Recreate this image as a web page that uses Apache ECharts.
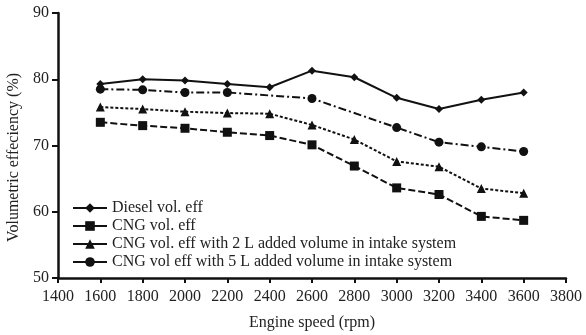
<!DOCTYPE html>
<html><head><meta charset="utf-8">
<script src="https://cdn.jsdelivr.net/npm/echarts@6/dist/echarts.min.js"></script>
<style>html,body{margin:0;padding:0;background:#fff}#c{width:586px;height:335px}</style>
</head><body><div id="c"></div>
<script>
const speeds = [1600,1800,2000,2200,2400,2600,2800,3000,3200,3400,3600];
const diesel = [79.3,80.0,79.8,79.3,78.8,81.3,80.3,77.2,75.5,76.9,78.0];
const cng    = [73.5,73.0,72.6,72.0,71.5,70.1,66.9,63.6,62.6,59.3,58.7];
const cng2L  = [75.8,75.5,75.1,74.9,74.8,73.1,70.9,67.6,66.8,63.5,62.8];
const cng5L  = [78.5,78.4,78.0,78.0,null,77.1,null,72.7,70.5,69.8,69.1];
const names = ['Diesel vol. eff','CNG vol. eff','CNG vol. eff with 2 L added volume in intake system','CNG vol eff with 5 L added volume in intake system'];
const xTicks = [1400,1600,1800,2000,2200,2400,2600,2800,3000,3200,3400,3600,3800];
const yTicks = [50,60,70,80,90];

const font = 'Liberation Serif';
const pair = a => speeds.map((s,i)=>[s,a[i]]).filter(p=>p[1]!==null);
function mk(name, data, symbol, size, type){
  return {name, type:'line', data:pair(data), symbol, symbolSize:size,
    itemStyle:{color:'#111'}, lineStyle:{color:'#111', width:2, type},
    animation:false};
}
const chart = echarts.init(document.getElementById('c'), null, {renderer:'canvas'});
chart.setOption({
  animation:false,
  grid:{left:58, right:20, top:13, bottom:57, containLabel:false, outerBoundsMode:'none'},
  xAxis:{type:'value', min:xTicks[0], max:xTicks[xTicks.length-1], interval:200,
    name:'Engine speed (rpm)', nameLocation:'middle', nameGap:37,
    nameTextStyle:{fontFamily:font, fontSize:16, color:'#222'},
    axisLine:{lineStyle:{color:'#111', width:2.5}},
    axisTick:{lineStyle:{color:'#111', width:2}, length:5},
    axisLabel:{fontFamily:font, fontSize:16, color:'#222', margin:11, formatter:v=>String(v)},
    splitLine:{show:false}},
  yAxis:{type:'value', min:yTicks[0], max:yTicks[yTicks.length-1], interval:10,
    name:'Volumetric effeciency (%)', nameLocation:'middle', nameGap:35, nameRotate:90,
    nameTextStyle:{fontFamily:font, fontSize:16, color:'#222', padding:[0,24,0,0]},
    axisLine:{show:true, lineStyle:{color:'#111', width:2.5}},
    axisTick:{show:true, lineStyle:{color:'#111', width:2}, length:6},
    axisLabel:{fontFamily:font, fontSize:16, color:'#222', margin:9},
    splitLine:{show:false}},
  legend:{orient:'vertical', left:67, top:195, itemGap:2, itemWidth:34, itemHeight:12,
    textStyle:{fontFamily:font, fontSize:16, color:'#222'},
    data:names.map(n=>({name:n, lineStyle:{type:'solid'}}))},
  series:[
    mk(names[0], diesel, 'diamond', 8, 'solid'),
    mk(names[1], cng, 'rect', 9, [7,3]),
    mk(names[2], cng2L, 'triangle', 9, [3,2]),
    mk(names[3], cng5L, 'circle', 9, [8,3,2,3])
  ]
});
</script></body></html>
